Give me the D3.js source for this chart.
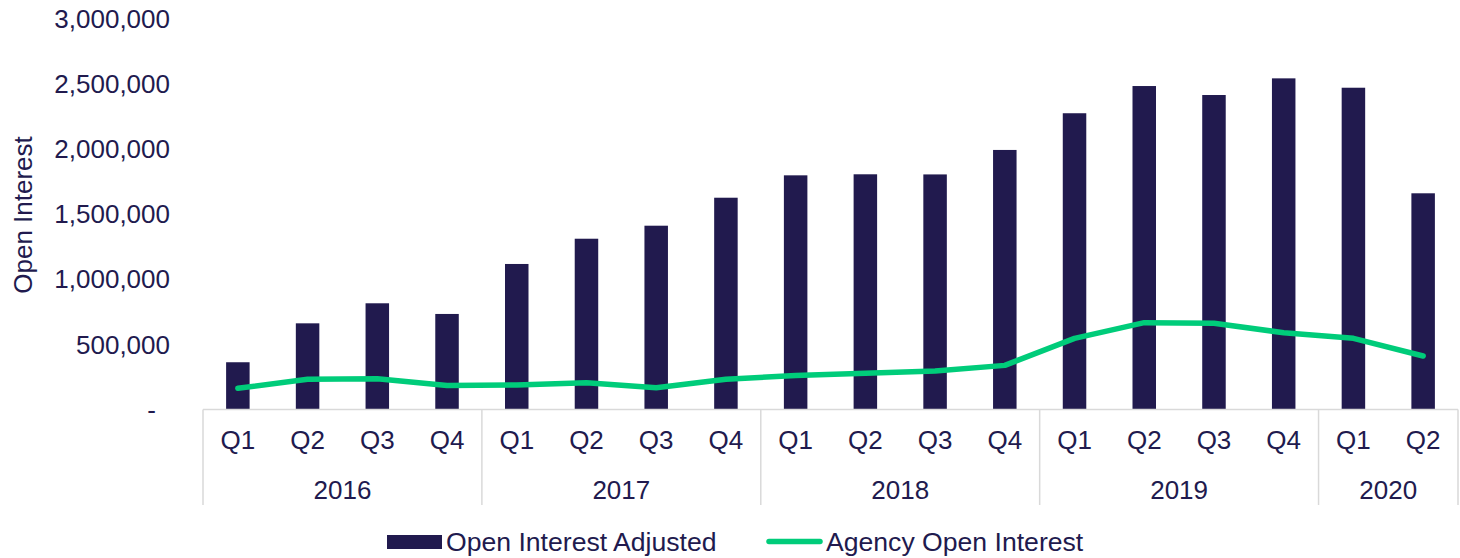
<!DOCTYPE html>
<html>
<head>
<meta charset="utf-8">
<script src="https://cdn.jsdelivr.net/npm/d3@7"></script>
<style>
  html, body { margin: 0; padding: 0; background: #ffffff; }
  svg { display: block; }
  text { font-family: "Liberation Sans", Arial, sans-serif; }
</style>
</head>
<body>
<svg id="chart" width="1460" height="558"></svg>
<script>
// ---- data ----
const years = ["2016", "2017", "2018", "2019", "2020"];
const quarters = ["Q1","Q2","Q3","Q4","Q1","Q2","Q3","Q4","Q1","Q2","Q3","Q4","Q1","Q2","Q3","Q4","Q1","Q2"];
const quarterYears = ["2016","2016","2016","2016","2017","2017","2017","2017","2018","2018","2018","2018","2019","2019","2019","2019","2020","2020"];
const openInterestAdjusted = [363000, 662000, 816000, 734000, 1118000, 1312000, 1412000, 1627000, 1799000, 1807000, 1806000, 1994000, 2276000, 2485000, 2416000, 2544000, 2472000, 1661000];
const agencyOpenInterest = [163000, 232000, 236000, 184000, 188000, 206000, 167000, 232000, 261000, 278000, 296000, 339000, 546000, 667000, 662000, 590000, 547000, 411000];
const yTicks = [0, 500000, 1000000, 1500000, 2000000, 2500000, 3000000];
const seriesNames = ["Open Interest Adjusted", "Agency Open Interest"];

// ---- styles ----
const barColor = "#211A4E";
const lineColor = "#00CC7A";
const textColor = "#211A4E";
const axisColor = "#D9D9D9";
const fontSize = 26;
const legendFontSize = 26.6;

const svg = d3.select("#chart");
const plotLeft = 203, plotRight = 1458, plotTop = 19, plotBase = 409.5, axisBottom = 505;

const keys = quarters.map((q, i) => quarterYears[i] + "-" + q);
const x = d3.scaleBand().domain(keys).range([plotLeft, plotRight]).paddingInner(0).paddingOuter(0);
const y = d3.scaleLinear().domain([0, 3000000]).range([plotBase, plotTop]);
const barW = 23.5;

// y tick labels
const fmt = d3.format(",");
svg.append("g").selectAll("text").data(yTicks).join("text")
  .attr("x", d => d === 0 ? 156 : 170)
  .attr("y", d => y(d))
  .attr("dy", "0.35em")
  .attr("text-anchor", "end")
  .attr("fill", textColor)
  .attr("font-size", fontSize)
  .text(d => d === 0 ? "-" : fmt(d));

// y axis title
svg.append("text")
  .attr("transform", `translate(32, 215) rotate(-90)`)
  .attr("text-anchor", "middle")
  .attr("fill", textColor)
  .attr("font-size", fontSize)
  .text("Open Interest");

// bars
svg.append("g").selectAll("rect").data(openInterestAdjusted).join("rect")
  .attr("x", (d, i) => x(keys[i]) + x.bandwidth() / 2 - barW / 2)
  .attr("y", d => y(d))
  .attr("width", barW)
  .attr("height", d => y(0) - y(d))
  .attr("fill", barColor);

// category axis box
const axisG = svg.append("g").attr("stroke", axisColor).attr("stroke-width", 1.5).attr("fill", "none");
axisG.append("line").attr("x1", plotLeft).attr("x2", plotRight).attr("y1", plotBase).attr("y2", plotBase);
const groupEdges = [plotLeft];
years.forEach(yr => {
  const idx = quarterYears.lastIndexOf(yr);
  groupEdges.push(x(keys[idx]) + x.bandwidth());
});
axisG.selectAll("line.sep").data(groupEdges).join("line")
  .attr("class", "sep")
  .attr("x1", d => d).attr("x2", d => d)
  .attr("y1", plotBase).attr("y2", axisBottom);

// quarter labels
svg.append("g").selectAll("text").data(quarters).join("text")
  .attr("x", (d, i) => x(keys[i]) + x.bandwidth() / 2)
  .attr("y", 440)
  .attr("dy", "0.35em")
  .attr("text-anchor", "middle")
  .attr("fill", textColor)
  .attr("font-size", fontSize)
  .text(d => d);

// year labels
svg.append("g").selectAll("text").data(years).join("text")
  .attr("x", yr => {
    const a = quarterYears.indexOf(yr), b = quarterYears.lastIndexOf(yr);
    return (x(keys[a]) + x(keys[b]) + x.bandwidth()) / 2;
  })
  .attr("y", 490)
  .attr("dy", "0.35em")
  .attr("text-anchor", "middle")
  .attr("fill", textColor)
  .attr("font-size", fontSize)
  .text(d => d);

// line
const line = d3.line()
  .x((d, i) => x(keys[i]) + x.bandwidth() / 2)
  .y(d => y(d));
svg.append("path")
  .datum(agencyOpenInterest)
  .attr("d", line)
  .attr("fill", "none")
  .attr("stroke", lineColor)
  .attr("stroke-width", 5.5)
  .attr("stroke-linejoin", "round")
  .attr("stroke-linecap", "round");

// legend
const lg = svg.append("g");
lg.append("rect").attr("x", 387).attr("y", 535).attr("width", 55).attr("height", 14).attr("fill", barColor);
lg.append("text").attr("x", 446).attr("y", 542).attr("dy", "0.35em")
  .attr("fill", textColor).attr("font-size", legendFontSize).text(seriesNames[0]);
lg.append("line").attr("x1", 769).attr("x2", 820).attr("y1", 541.5).attr("y2", 541.5)
  .attr("stroke", lineColor).attr("stroke-width", 5.5).attr("stroke-linecap", "round");
lg.append("text").attr("x", 826).attr("y", 542).attr("dy", "0.35em")
  .attr("fill", textColor).attr("font-size", legendFontSize).text(seriesNames[1]);
</script>
</body>
</html>
